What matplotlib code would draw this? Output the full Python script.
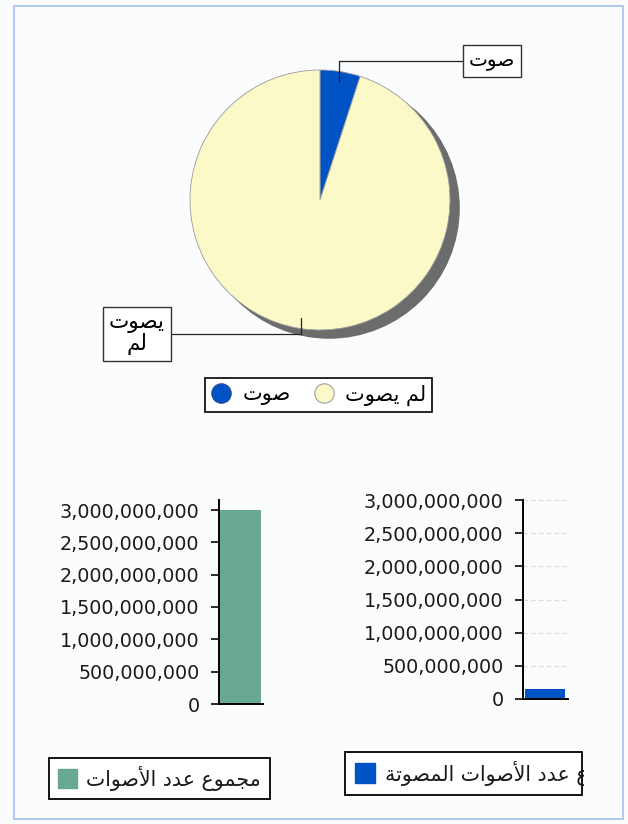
import matplotlib
matplotlib.use('Agg')
import matplotlib.pyplot as plt
from matplotlib.patches import Circle, Rectangle
from matplotlib.lines import Line2D
from matplotlib.ticker import FuncFormatter, MultipleLocator
from matplotlib.transforms import Bbox, TransformedBbox
import numpy as np

# Data (Arabic labels written in visual order with presentation forms,
# since matplotlib does no Arabic shaping / bidi)
VOTED_LBL     = '\uFE95\uFEEE\uFEBB'                        # صوت
NOTVOTED_LBL  = '\uFE95\uFEEE\uFEBC\uFEF3 \uFEE2\uFEDF'     # لم يصوت
NOTVOTED_BOX  = '\uFE95\uFEEE\uFEBC\uFEF3\n\uFEE2\uFEDF'    # يصوت / لم
TOTAL_LBL     = '\uFE95\uFE8D\uFEEE\uFEBB\uFEF7\uFE8D \uFEA9\uFEAA\uFECB \uFEC9\uFEEE\uFEE4\uFEA0\uFEE3'  # مجموع عدد الأصوات
VOTES_LBL     = ('\uFE94\uFE97\uFEEE\uFEBC\uFEE4\uFEDF\uFE8D \uFE95\uFE8D\uFEEE\uFEBB\uFEF7\uFE8D '
                 '\uFEA9\uFEAA\uFECB \uFEC9\uFEEE\uFEE4\uFEA0\uFEE3')  # مجموع عدد الأصوات المصوتة (clipped)

pie_labels = [VOTED_LBL, NOTVOTED_LBL]
pie_values = [150_000_000, 2_850_000_000]
total_votes = [3_000_000_000]
voted_count = [150_000_000]

COL_VOTED = '#0053c4'
COL_NOT   = '#fcf9c9'
COL_TOTAL = '#69a891'
BG        = '#fbfcfe'

W, H = 628, 824
fig = plt.figure(figsize=(W/100, H/100), dpi=100, facecolor=BG)

def px(x0, y0, x1, y1):
	# rectangle in image pixels (top-left origin) -> figure fraction
	return [x0/W, 1-y1/H, (x1-x0)/W, (y1-y0)/H]

# Overlay axes in pixel coordinates for the frame and hand-drawn legends
ov = fig.add_axes([0, 0, 1, 1], zorder=0)
ov.set_xlim(0, W); ov.set_ylim(H, 0); ov.axis('off')
ov.add_patch(Rectangle((14, 6), 609, 813, fill=False, ec='#a9c6ee', lw=1.3))

# ---- Pie ----
R = 130.
cx, cy = 320, 200
ax = fig.add_axes(px(cx-150, cy-150, cx+150, cy+150), zorder=2)
ax.add_patch(Circle((0.07, -0.062), 1.0, color='#6c6c6c', zorder=0))
wedges, _ = ax.pie(pie_values, colors=[COL_VOTED, COL_NOT], startangle=90, counterclock=False,
                   radius=1.0, wedgeprops=dict(edgecolor='#9a9a9a', linewidth=0.6))
for w in wedges: w.set_zorder(1)
ax.set_xlim(-150/R, 150/R); ax.set_ylim(-150/R, 150/R)
ax.set_aspect('equal'); ax.axis('off')

# Leader-line labels, anchored on the middle of each wedge
boxes = [(VOTED_LBL, (492, 61), 14.5), (NOTVOTED_BOX, (137, 334), 15.5)]
for w, (txt, (bx, by), fs) in zip(wedges, boxes):
	ang = np.deg2rad((w.theta1 + w.theta2)/2)
	xy = (0.92*np.cos(ang), 0.92*np.sin(ang))
	ax.annotate(txt, xy=xy, xytext=(bx, H-by), textcoords='figure pixels',
				ha='center', va='center', fontsize=fs, linespacing=0.95, zorder=5,
				bbox=dict(boxstyle='square,pad=0.3', fc='white', ec='#333333', lw=1.0),
				arrowprops=dict(arrowstyle='-', color='#222222', lw=0.9, shrinkA=0, shrinkB=0,
								connectionstyle='angle,angleA=0,angleB=90,rad=0'))

handles = [Line2D([], [], ls='none', marker='o', ms=14, mfc=COL_VOTED, mec='#2a4a9a', mew=0.8),
		   Line2D([], [], ls='none', marker='o', ms=14, mfc=COL_NOT, mec='#a0a0a0', mew=0.8)]
fig.legend(handles, pie_labels, ncol=2, loc='center', bbox_to_anchor=(318.5/W, 1-395/H),
		   frameon=True, fancybox=False, edgecolor='black', facecolor='white', framealpha=1,
		   fontsize=15, handlelength=1.0, handletextpad=0.5, columnspacing=1.1,
		   borderpad=0.3).get_frame().set_linewidth(1.2)

# ---- Bars ----
fmt = FuncFormatter(lambda v, p: '{:,}'.format(int(v)))

def style_bar_axis(a):
	for s in ['top', 'right']:
		a.spines[s].set_visible(False)
	a.spines['left'].set_linewidth(1.4)
	a.spines['bottom'].set_linewidth(1.4)
	a.set_xticks([])
	a.yaxis.set_major_locator(MultipleLocator(500_000_000))
	a.yaxis.set_major_formatter(fmt)
	a.tick_params(axis='y', length=6, width=1.3, pad=8, labelsize=13.8, colors='#1a1a1a')
	a.set_facecolor('none')

axL = fig.add_axes(px(219, 500, 263, 704), zorder=1)
axL.bar([0], total_votes, width=0.95, align='edge', color=COL_TOTAL)
axL.set_xlim(0, 1)
axL.set_ylim(0, 3_000_000_000*204/194)
style_bar_axis(axL)

axR = fig.add_axes(px(523, 500, 568, 699), zorder=1)
axR.bar([0.045], voted_count, width=0.89, align='edge', color=COL_VOTED)
axR.set_xlim(0, 1)
axR.set_ylim(0, 3_000_000_000)
style_bar_axis(axR)
axR.yaxis.grid(True, ls=(0, (4, 3)), color='#dcdcdc', lw=0.8)
axR.set_axisbelow(True)

# ---- Bar legends (drawn by hand, the right one clips its text like the original) ----
ov.add_patch(Rectangle((49, 758), 221, 41, fill=True, fc='white', ec='black', lw=1.3))
ov.add_patch(Rectangle((58, 769), 19, 19, color=COL_TOTAL))
ov.text(261, 778.5, TOTAL_LBL, ha='right', va='center', fontsize=14.8, color='#1a1a1a')

ov.add_patch(Rectangle((345, 752), 237, 43, fill=True, fc='white', ec='black', lw=1.3))
ov.add_patch(Rectangle((355, 763), 20, 20, color=COL_VOTED))
t = ov.text(385, 773, VOTES_LBL, ha='left', va='center', fontsize=14.8, color='#1a1a1a')
t.set_clip_box(TransformedBbox(Bbox([[340, 740], [584, 810]]), ov.transData))
t.set_clip_on(True)

fig.savefig('out.png', dpi=100, facecolor=BG)
